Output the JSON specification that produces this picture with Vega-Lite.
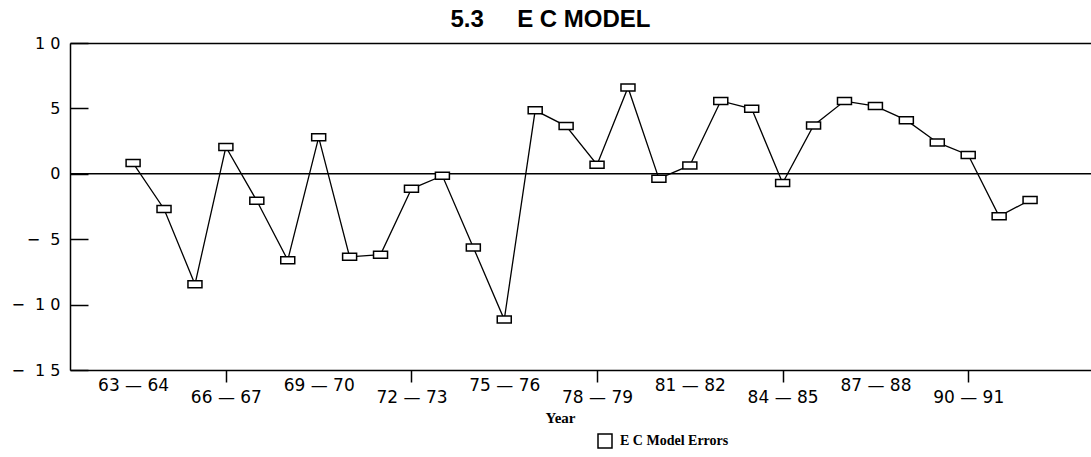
{
  "$schema": "https://vega.github.io/schema/vega-lite/v6.json",
  "width": 1021,
  "height": 327,
  "autosize": "none",
  "padding": {"left": 70, "top": 43, "right": 0, "bottom": 87},
  "background": "white",
  "config": {"view": {"stroke": null}, "axis": {"grid": false}},
  "title": {
    "text": "5.3\u00a0\u00a0\u00a0\u00a0\u00a0E C MODEL",
    "font": "Liberation Sans",
    "fontSize": 24,
    "fontWeight": "bold",
    "color": "black",
    "anchor": "middle",
    "frame": "group",
    "dx": -30,
    "dy": 27,
    "offset": 11,
    "baseline": "alphabetic"
  },
  "data": {
    "values": [
      {"year": "63-64", "start": 63, "error": 0.82},
      {"year": "64-65", "start": 64, "error": -2.69},
      {"year": "65-66", "start": 65, "error": -8.45},
      {"year": "66-67", "start": 66, "error": 2.05},
      {"year": "67-68", "start": 67, "error": -2.06},
      {"year": "68-69", "start": 68, "error": -6.6},
      {"year": "69-70", "start": 69, "error": 2.79},
      {"year": "70-71", "start": 70, "error": -6.35},
      {"year": "71-72", "start": 71, "error": -6.18},
      {"year": "72-73", "start": 72, "error": -1.15},
      {"year": "73-74", "start": 73, "error": -0.15},
      {"year": "74-75", "start": 74, "error": -5.63},
      {"year": "75-76", "start": 75, "error": -11.14},
      {"year": "76-77", "start": 76, "error": 4.85},
      {"year": "77-78", "start": 77, "error": 3.65},
      {"year": "78-79", "start": 78, "error": 0.69},
      {"year": "79-80", "start": 79, "error": 6.6},
      {"year": "80-81", "start": 80, "error": -0.37},
      {"year": "81-82", "start": 81, "error": 0.64},
      {"year": "82-83", "start": 82, "error": 5.57},
      {"year": "83-84", "start": 83, "error": 4.97},
      {"year": "84-85", "start": 84, "error": -0.7},
      {"year": "85-86", "start": 85, "error": 3.69},
      {"year": "86-87", "start": 86, "error": 5.56},
      {"year": "87-88", "start": 87, "error": 5.18},
      {"year": "88-89", "start": 88, "error": 4.1},
      {"year": "89-90", "start": 89, "error": 2.4},
      {"year": "90-91", "start": 90, "error": 1.44},
      {"year": "91-92", "start": 91, "error": -3.25},
      {"year": "92-93", "start": 92, "error": -2.0}
    ]
  },
  "layer": [
    {
      "data": {"values": [{"v": 0}]},
      "mark": {"type": "rule", "color": "black", "strokeWidth": 1.5},
      "encoding": {
        "y": {
          "field": "v", "type": "quantitative",
          "scale": {"domain": [-15, 10], "nice": false, "zero": false},
          "axis": {
            "orient": "left",
            "values": [-15, -10, -5, 0, 5, 10],
            "labelExpr": "datum.value == 10 ? '1\u00a00' : datum.value == 5 ? '5' : datum.value == 0 ? '0' : datum.value == -5 ? '−\u00a0\u00a05' : datum.value == -10 ? '−\u00a0\u00a01\u00a00' : '−\u00a0\u00a01\u00a05'",
            "labelFont": "DejaVu Sans",
            "labelFontSize": 16,
            "labelColor": "black",
            "tickSize": -18,
            "labelPadding": 28,
            "tickColor": "black",
            "tickWidth": 1.5,
            "domainColor": "black",
            "domainWidth": 1.5,
            "title": null
          }
        }
      }
    },
    {
      "mark": {"type": "line", "color": "black", "strokeWidth": 1.3},
      "encoding": {
        "x": {
          "field": "start", "type": "quantitative",
          "scale": {"domain": [60.96, 93.97], "nice": false, "zero": false},
          "axis": {"orient": "top", "labels": false, "ticks": false, "title": null, "domainColor": "black", "domainWidth": 1.5}
        },
        "y": {
          "field": "error", "type": "quantitative",
          "scale": {"domain": [-15, 10], "nice": false, "zero": false},
          "axis": {
            "orient": "left",
            "values": [-15, -10, -5, 0, 5, 10],
            "labelExpr": "datum.value == 10 ? '1\u00a00' : datum.value == 5 ? '5' : datum.value == 0 ? '0' : datum.value == -5 ? '−\u00a0\u00a05' : datum.value == -10 ? '−\u00a0\u00a01\u00a00' : '−\u00a0\u00a01\u00a05'",
            "labelFont": "DejaVu Sans",
            "labelFontSize": 16,
            "labelColor": "black",
            "tickSize": -18,
            "labelPadding": 28,
            "tickColor": "black",
            "tickWidth": 1.5,
            "domainColor": "black",
            "domainWidth": 1.5,
            "title": null
          }
        }
      }
    },
    {
      "mark": {"type": "point", "shape": "M-1,-0.5H1V0.5H-1Z", "size": 196, "filled": true, "fill": "white", "strokeWidth": 1.5, "opacity": 1},
      "encoding": {
        "x": {
          "field": "start", "type": "quantitative",
          "scale": {"domain": [60.96, 93.97], "nice": false, "zero": false},
          "axis": {
            "orient": "bottom",
            "values": [63, 66, 69, 72, 75, 78, 81, 84, 87, 90],
            "labelExpr": "datum.value + '\u00a0—\u00a0' + (datum.value + 1)",
            "labelFont": "DejaVu Sans",
            "labelFontSize": 17,
            "labelColor": "black",
            "labelBaseline": "top",
            "labelPadding": {"condition": {"test": "datum.value % 6 == 0", "value": 7}, "value": -5},
            "tickSize": 12,
            "tickColor": "black",
            "tickWidth": 1.5,
            "tickOpacity": {"condition": {"test": "datum.value % 6 == 3", "value": 0}, "value": 1},
            "domainColor": "black",
            "domainWidth": 1.5,
            "labelOverlap": false,
            "labelFlush": false,
            "title": "Year",
            "titleFont": "Liberation Serif",
            "titleFontWeight": "bold",
            "titleFontSize": 15,
            "titleColor": "black",
            "titleX": 490,
            "titleY": 52,
            "titleBaseline": "alphabetic"
          }
        },
        "y": {
          "field": "error", "type": "quantitative",
          "scale": {"domain": [-15, 10], "nice": false, "zero": false},
          "axis": {
            "orient": "left",
            "values": [-15, -10, -5, 0, 5, 10],
            "labelExpr": "datum.value == 10 ? '1\u00a00' : datum.value == 5 ? '5' : datum.value == 0 ? '0' : datum.value == -5 ? '−\u00a0\u00a05' : datum.value == -10 ? '−\u00a0\u00a01\u00a00' : '−\u00a0\u00a01\u00a05'",
            "labelFont": "DejaVu Sans",
            "labelFontSize": 16,
            "labelColor": "black",
            "tickSize": -18,
            "labelPadding": 28,
            "tickColor": "black",
            "tickWidth": 1.5,
            "domainColor": "black",
            "domainWidth": 1.5,
            "title": null
          }
        },
        "stroke": {
          "datum": "E C Model Errors",
          "scale": {"range": ["black"]},
          "legend": {
            "orient": "none",
            "legendX": 527,
            "legendY": 390,
            "title": null,
            "padding": 0,
            "symbolType": "square",
            "symbolSize": 196,
            "symbolFillColor": "white",
            "symbolStrokeColor": "black",
            "symbolStrokeWidth": 1.5,
            "labelFont": "Liberation Serif",
            "labelFontWeight": "bold",
            "labelFontSize": 14,
            "labelColor": "black",
            "labelOffset": 7
          }
        }
      }
    }
  ]
}
